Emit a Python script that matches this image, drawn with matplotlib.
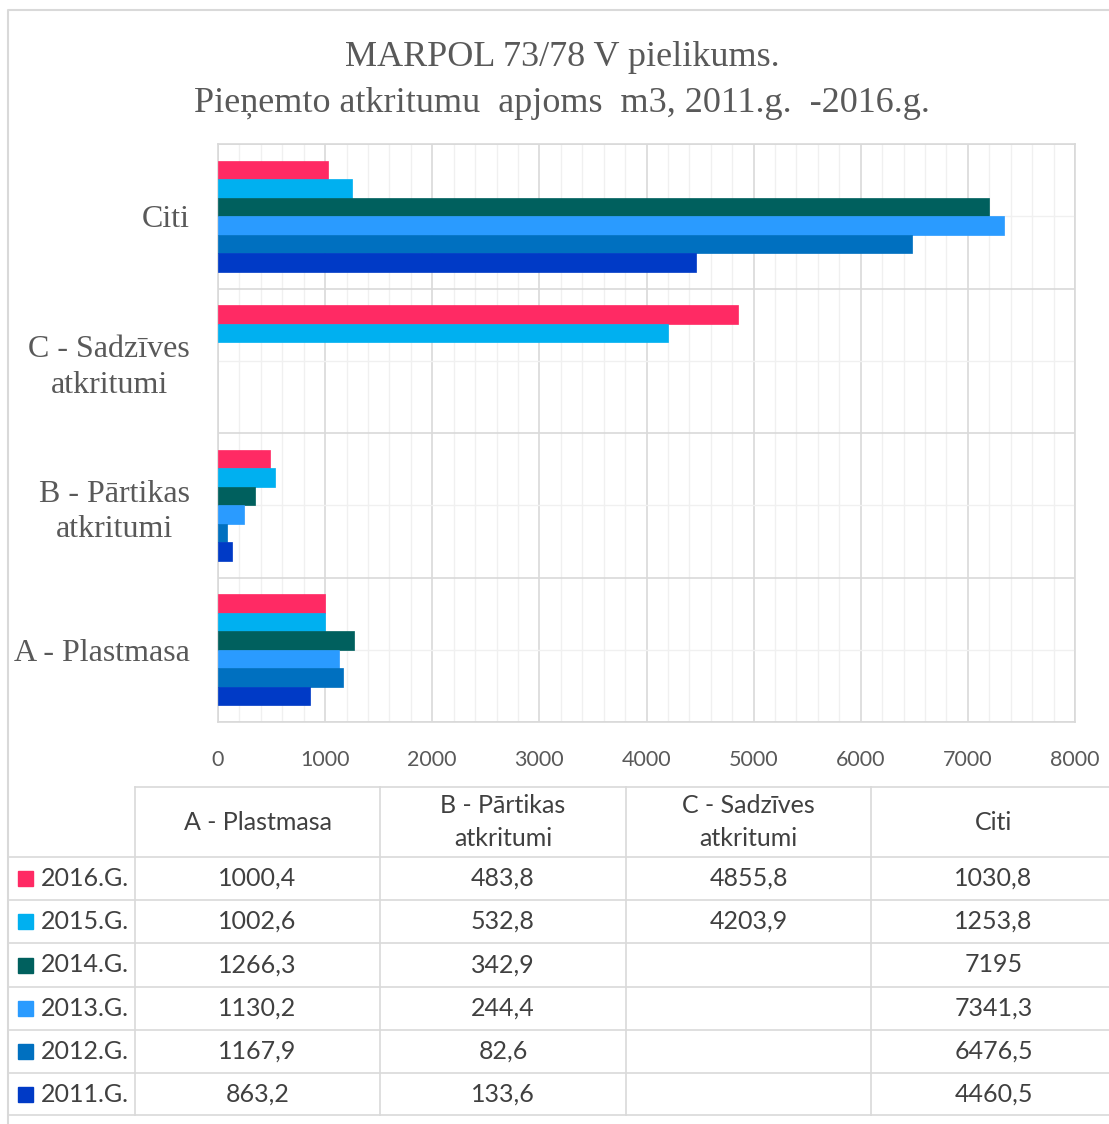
import numpy as np
import matplotlib.pyplot as plt
from matplotlib.patches import Rectangle

# dati
categories = ['A - Plastmasa', 'B - Pārtikas\natkritumi', 'C - Sadzīves\natkritumi', 'Citi']
table_headers = ['A - Plastmasa', 'B - Pārtikas\natkritumi', 'C - Sadzīves\natkritumi', 'Citi']
years = ['2016.G.', '2015.G.', '2014.G.', '2013.G.', '2012.G.', '2011.G.']
colors = ['#FF2A64', '#00B0F0', '#00605E', '#2A9BFF', '#0070C0', '#003AC6']
v2016 = [1000.4, 483.8, 4855.8, 1030.8]
v2015 = [1002.6, 532.8, 4203.9, 1253.8]
v2014 = [1266.3, 342.9, None, 7195]
v2013 = [1130.2, 244.4, None, 7341.3]
v2012 = [1167.9, 82.6, None, 6476.5]
v2011 = [863.2, 133.6, None, 4460.5]
series = [v2016, v2015, v2014, v2013, v2012, v2011]
xticks = [0, 1000, 2000, 3000, 4000, 5000, 6000, 7000, 8000]

W, H = 1109, 1124
fig = plt.figure(figsize=(W / 100, H / 100), dpi=100)
grid_major = '#D9D9D9'
grid_minor = '#F0F0F0'
txt = '#595959'

# bar chart
ax = fig.add_axes([218 / W, 1 - 722 / H, (1075 - 218) / W, (722 - 144) / H])
group = 0.77
bh = group / len(series)
for j, vals in enumerate(series):
    off = group / 2 - bh * (j + 0.5)
    idx = [i for i, x in enumerate(vals) if x is not None]
    ax.barh([i + off for i in idx], [vals[i] for i in idx], height=bh,
            color=colors[j], edgecolor=colors[j], linewidth=0.5, zorder=3)

ypos = np.arange(len(categories))
ax.set_xlim(0, 8000)
ax.set_ylim(-0.5, len(categories) - 0.5)
ax.set_xticks(xticks)
ax.set_xticks(np.arange(0, 8001, 200), minor=True)
ax.set_yticks(ypos)
ax.set_yticklabels(categories, fontfamily='Liberation Serif', fontsize=23,
                   color=txt, multialignment='center', linespacing=1.3)
ax.set_yticks(np.arange(-0.5, len(categories), 1.0), minor=True)
ax.tick_params(axis='y', which='both', length=0, pad=20)
ax.tick_params(axis='x', which='both', length=0, pad=20, labelsize=15.5, labelcolor=txt)
for lab in ax.get_xticklabels():
    lab.set_fontfamily('Lato')
ax.grid(axis='x', which='major', color=grid_major, linewidth=1.2, zorder=0)
ax.grid(axis='x', which='minor', color=grid_minor, linewidth=1.0, zorder=0)
ax.grid(axis='y', which='minor', color=grid_major, linewidth=1.2, zorder=0)
ax.grid(axis='y', which='major', color=grid_minor, linewidth=1.0, zorder=0)
for s in ax.spines.values():
    s.set_color(grid_major)
    s.set_linewidth(1.2)

# overlay in pixel coordinates: title, frame, data table
ov = fig.add_axes([0, 0, 1, 1], zorder=-1)
ov.set_xlim(0, W)
ov.set_ylim(H, 0)
ov.axis('off')
ov.plot([8, 8, W], [H, 10, 10], color=grid_major, lw=1.5)
ov.text(562, 58, 'MARPOL 73/78 V pielikums.', ha='center', va='center',
        fontfamily='Liberation Serif', fontsize=26, color=txt)
ov.text(562, 103, 'Pieņemto atkritumu  apjoms  m3, 2011.g.  -2016.g.', ha='center',
        va='center', fontfamily='Liberation Serif', fontsize=26, color=txt)

tab = fig.add_axes([0, 0, 1, 1])
tab.set_xlim(0, W)
tab.set_ylim(H, 0)
tab.axis('off')
col_x = [135, 380, 626, 871, 1116]
row_y = [787, 857, 900, 943, 987, 1030, 1073, 1115]
lc = '#D9D9D9'
tab.plot([col_x[0], W], [row_y[0]] * 2, color=lc, lw=1.2)
for y in row_y[1:]:
    tab.plot([8, W], [y, y], color=lc, lw=1.2)
for x in col_x:
    tab.plot([x, x], [row_y[0], row_y[-1]], color=lc, lw=1.2)
tfont = dict(fontfamily='Lato', fontsize=18, color='#404040')
for c, head in enumerate(table_headers):
    tab.text((col_x[c] + col_x[c + 1]) / 2, (row_y[0] + row_y[1]) / 2, head,
             ha='center', va='center', multialignment='center', linespacing=1.5, **tfont)
for r, (yr, vals) in enumerate(zip(years, series)):
    yc = (row_y[r + 1] + row_y[r + 2]) / 2
    tab.add_patch(Rectangle((18, yc - 7.5), 15, 15, color=colors[r]))
    tab.text(41, yc, yr, ha='left', va='center', **tfont)
    for c, v in enumerate(vals):
        if v is None:
            continue
        tab.text((col_x[c] + col_x[c + 1]) / 2, yc, f'{v:g}'.replace('.', ','),
                 ha='center', va='center', **tfont)

fig.savefig('out.png', dpi=100, facecolor='white')
